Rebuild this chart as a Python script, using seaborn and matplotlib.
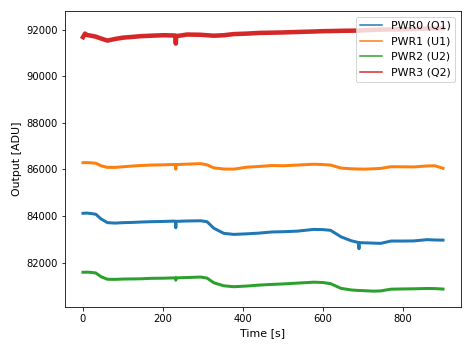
import numpy as np
import pandas as pd
import matplotlib
matplotlib.use("Agg")
import matplotlib.pyplot as plt
import seaborn as sns

time_s = [0, 5, 10, 20, 32, 45, 61, 80, 102, 125, 144, 170, 200, 227, 231, 232, 233, 260, 294,
          310, 327, 352, 377, 410, 440, 473, 500, 536, 577, 600, 619, 645, 671, 688, 690,
          691, 702, 727, 744, 770, 800, 827, 860, 880, 900]

pwr0_q1 = [84120, 84125, 84130, 84110, 84080, 83880, 83720, 83700, 83720, 83730, 83745, 83760,
           83770, 83785, 83780, 83500, 83775, 83790, 83800, 83760, 83480, 83260, 83215, 83240, 83270,
           83320, 83330, 83355, 83430, 83420, 83390, 83110, 82940, 82870, 82600, 82860, 82855,
           82840, 82830, 82930, 82930, 82935, 82990, 82975, 82970]

pwr1_u1 = [86290, 86292, 86295, 86285, 86270, 86160, 86090, 86090, 86120, 86150, 86170, 86190,
           86200, 86215, 86212, 86010, 86210, 86230, 86250, 86200, 86070, 86020, 86015, 86100, 86130,
           86170, 86160, 86190, 86225, 86210, 86190, 86060, 86030, 86020, 86020, 86020, 86015,
           86030, 86045, 86120, 86115, 86110, 86150, 86160, 86050]

pwr2_u2 = [81590, 81592, 81595, 81585, 81560, 81400, 81290, 81285, 81300, 81305, 81310, 81330,
           81335, 81350, 81350, 81250, 81350, 81365, 81385, 81340, 81140, 81010, 80970, 81000, 81040,
           81070, 81090, 81125, 81165, 81150, 81100, 80900, 80830, 80810, 80810, 80810, 80800,
           80780, 80790, 80865, 80875, 80880, 80895, 80890, 80870]

pwr3_q2 = [91680, 91830, 91770, 91740, 91700, 91620, 91530, 91600, 91660, 91690, 91720, 91740,
           91760, 91750, 91745, 91400, 91720, 91790, 91780, 91760, 91740, 91760, 91810, 91830, 91860,
           91870, 91880, 91900, 91920, 91935, 91940, 91950, 91955, 91960, 91960, 91960, 91975,
           91990, 92000, 92010, 92020, 92030, 92045, 92050, 92055]

labels = ["PWR0 (Q1)", "PWR1 (U1)", "PWR2 (U2)", "PWR3 (Q2)"]
series = [pwr0_q1, pwr1_u1, pwr2_u2, pwr3_q2]

df = pd.concat(
    [pd.DataFrame({"time": time_s, "value": s, "channel": lab}) for s, lab in zip(series, labels)],
    ignore_index=True,
)

plt.rcParams["font.family"] = ["DejaVu Sans"]
plt.rcParams["font.size"] = 10

fig = plt.figure(figsize=(473 / 72, 347 / 72), dpi=72)
ax = fig.add_axes([65 / 473, 1 - 307 / 347, (461 - 65) / 473, (307 - 11) / 347])

palette = ["#1f77b4", "#ff7f0e", "#2ca02c", "#d62728"]
widths = [3.0, 3.0, 3.0, 4.5]
for lab, col, lw in zip(labels, palette, widths):
    sns.lineplot(data=df[df["channel"] == lab], x="time", y="value", color=col,
                 linewidth=lw, ax=ax, label=lab)

ax.set_xlim(-45, 945)
ax.set_ylim(80100, 92800)
ax.set_xticks([0, 200, 400, 600, 800])
ax.set_yticks([82000, 84000, 86000, 88000, 90000, 92000])
ax.ticklabel_format(axis="y", style="plain", useOffset=False)
ax.set_xlabel("Time [s]", fontsize=11)
ax.set_ylabel("Output [ADU]", fontsize=11)

leg = ax.legend(loc="upper right", fontsize=11)
for line in leg.get_lines():
    line.set_linewidth(1.5)

fig.savefig("out.png", dpi=72)
